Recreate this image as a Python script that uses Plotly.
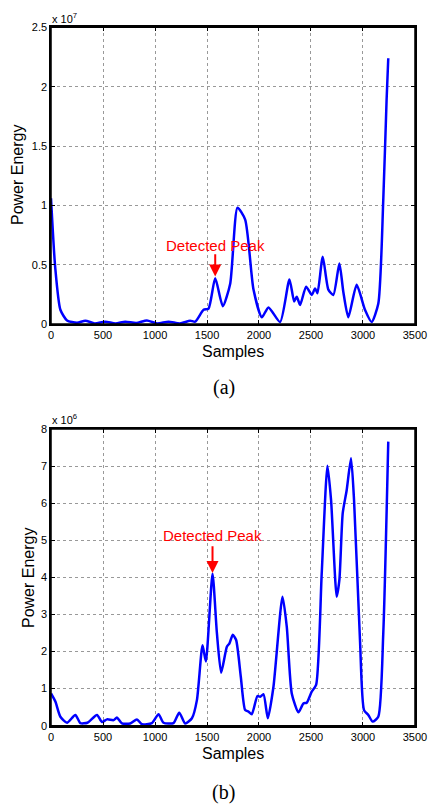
import plotly.graph_objects as go

# panel (a): power energy, values in units of 1e7
samples_a = [0, 40, 90, 154, 250, 330, 420, 522, 620, 714, 820, 922, 1020, 1130,
             1240, 1338, 1387, 1467, 1515, 1579, 1652, 1723, 1793, 1867, 1947,
             2027, 2091, 2203, 2293, 2338, 2363, 2395, 2453, 2507, 2539, 2562,
             2613, 2667, 2715, 2773, 2811, 2859, 2939, 3019, 3083, 3147, 3195,
             3227, 3243]
energy_a = [1.06, 0.48, 0.12, 0.03, 0.01, 0.028, 0.005, 0.02, 0.005, 0.02, 0.008,
            0.03, 0.005, 0.02, 0.005, 0.028, 0.02, 0.12, 0.13, 0.385, 0.15,
            0.34, 0.98, 0.88, 0.29, 0.056, 0.14, 0.017, 0.376, 0.19, 0.23, 0.16,
            0.315, 0.245, 0.30, 0.26, 0.567, 0.29, 0.245, 0.51, 0.27, 0.056,
            0.33, 0.12, 0.017, 0.17, 1.045, 1.89, 2.24]

# panel (b): power energy, values in units of 1e6
samples_b = [0, 42, 90, 154, 234, 282, 350, 442, 490, 538, 602, 634, 682, 762,
             826, 874, 970, 1034, 1082, 1178, 1233, 1290, 1355, 1403, 1457, 1489,
             1553, 1595, 1636, 1691, 1716, 1748, 1780, 1825, 1867, 1899, 1931,
             1985, 2011, 2043, 2085, 2139, 2226, 2267, 2315, 2379, 2427, 2459,
             2507, 2549, 2603, 2658, 2693, 2747, 2773, 2805, 2843, 2885, 2914,
             2971, 3010, 3051, 3093, 3147, 3195, 3243]
energy_b = [0.87, 0.65, 0.24, 0.08, 0.29, 0.07, 0.08, 0.29, 0.1, 0.17, 0.15, 0.22,
            0.06, 0.06, 0.17, 0.04, 0.07, 0.31, 0.08, 0.07, 0.35, 0.06, 0.2,
            0.69, 2.17, 1.73, 4.1, 2.5, 1.43, 2.13, 2.22, 2.45, 2.31, 1.32, 0.42,
            0.38, 0.31, 0.8, 0.78, 0.85, 0.2, 1.05, 3.48, 2.67, 0.87, 0.36, 0.6,
            0.62, 0.92, 1.1, 4.1, 7.01, 6.08, 3.48, 3.93, 5.73, 6.35, 7.21, 6.08,
            2.31, 0.42, 0.29, 0.11, 0.24, 2.49, 7.66]

x_ticks = [0, 500, 1000, 1500, 2000, 2500, 3000, 3500]
y_ticks_a = [0, 0.5, 1, 1.5, 2, 2.5]
y_ticks_b = [0, 1, 2, 3, 4, 5, 6, 7, 8]

peak_a = (1579, 0.40)
peak_b = (1553, 4.12)

fig = go.Figure()
fig.add_trace(go.Scatter(x=samples_a, y=energy_a, mode="lines",
                         line=dict(color="#0000ff", width=2.5, shape="spline", smoothing=0.6),
                         xaxis="x", yaxis="y", showlegend=False))
fig.add_trace(go.Scatter(x=samples_b, y=energy_b, mode="lines",
                         line=dict(color="#0000ff", width=2.5, shape="spline", smoothing=0.6),
                         xaxis="x2", yaxis="y2", showlegend=False))

axis_style = dict(showline=True, linecolor="black", linewidth=1.5, mirror="ticks",
                  ticks="inside", ticklen=4, tickcolor="black", automargin=False,
                  showgrid=True, gridcolor="#999999", griddash="dot", gridwidth=1,
                  zeroline=False, tickfont=dict(family="Liberation Sans", size=11, color="black"))

fig.update_layout(
    width=428, height=804,
    margin=dict(l=0, r=0, t=0, b=0),
    paper_bgcolor="white", plot_bgcolor="white",
    xaxis=dict(domain=[0.1192, 0.9696], range=[0, 3500], tickvals=x_ticks,
               anchor="y", **axis_style),
    yaxis=dict(domain=[0.597, 0.966], range=[0, 2.5], tickvals=y_ticks_a,
               ticktext=["0", "0.5", "1", "1.5", "2", "2.5"],
               anchor="x", **axis_style),
    xaxis2=dict(domain=[0.1192, 0.9696], range=[0, 3500], tickvals=x_ticks,
                anchor="y2", **axis_style),
    yaxis2=dict(domain=[0.0974, 0.4664], range=[0, 8], tickvals=y_ticks_b,
                anchor="x2", **axis_style),
)

# black frame round each panel, as in the MATLAB box
for xr, yr in (("x domain", "y domain"), ("x2 domain", "y2 domain")):
    fig.add_shape(type="rect", xref=xr, yref=yr, x0=0, x1=1, y0=0, y1=1,
                  line=dict(color="black", width=1.5), layer="above")

red = "#ff0000"
label_font = dict(family="Liberation Sans", size=16, color="black")
peak_font = dict(family="Liberation Sans", size=15, color=red)


def paper_note(px, py, text, font, **kw):
    # place a text centred on a pixel position of the page
    return dict(x=px / 428, y=1 - py / 804, xref="paper", yref="paper", text=text,
                xanchor=kw.pop("xanchor", "center"), yanchor="middle",
                showarrow=False, font=font, **kw)


notes = [
    # arrows
    dict(x=peak_a[0], y=peak_a[1], ax=peak_a[0], ay=0.60, xref="x", yref="y",
         axref="x", ayref="y", text="", showarrow=True, arrowhead=2,
         arrowsize=1.2, arrowwidth=2, arrowcolor=red),
    dict(x=peak_b[0], y=peak_b[1], ax=peak_b[0], ay=4.88, xref="x2", yref="y2",
         axref="x2", ayref="y2", text="", showarrow=True, arrowhead=2,
         arrowsize=1.2, arrowwidth=2, arrowcolor=red),
    dict(x=peak_a[0], y=0.66, xref="x", yref="y", text="Detected Peak",
         xanchor="center", yanchor="middle", showarrow=False, font=peak_font),
    dict(x=peak_b[0], y=5.12, xref="x2", yref="y2", text="Detected Peak",
         xanchor="center", yanchor="middle", showarrow=False, font=peak_font),
    # exponent labels
    paper_note(50, 18, "x 10<sup>7</sup>",
               dict(family="Liberation Sans", size=11, color="black"), xanchor="left"),
    paper_note(50, 419, "x 10<sup>6</sup>",
               dict(family="Liberation Sans", size=11, color="black"), xanchor="left"),
    # axis titles
    paper_note(233, 351, "Samples", label_font),
    paper_note(233, 753, "Samples", label_font),
    paper_note(18, 175, "Power Energy", label_font, textangle=-90),
    paper_note(28, 577, "Power Energy", label_font, textangle=-90),
    # panel captions
    paper_note(224, 387, "(a)", dict(family="Liberation Serif", size=20, color="black")),
    paper_note(224, 792, "(b)", dict(family="Liberation Serif", size=20, color="black")),
]
fig.update_layout(annotations=notes)

# drop the default body margin and scrollbars so the figure fills the window
fig.write_html("out.html", config={"displayModeBar": False},
               post_script="document.body.style.margin='0';"
                           "document.body.style.overflow='hidden';"
                           "document.documentElement.style.overflow='hidden';")
